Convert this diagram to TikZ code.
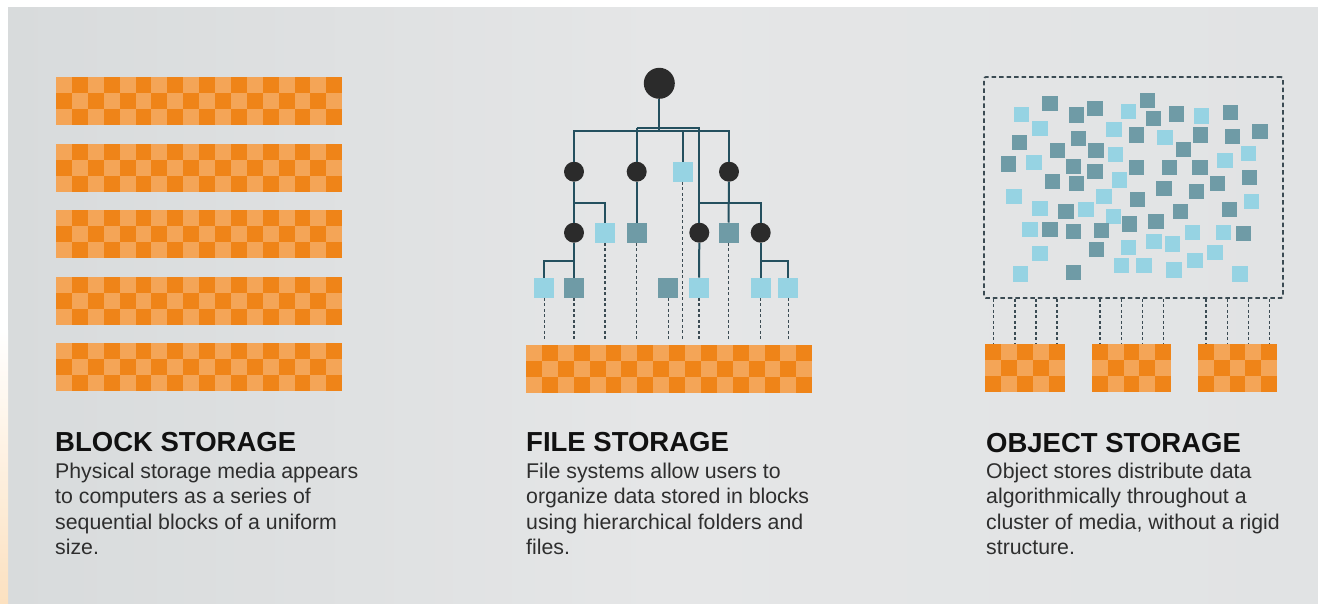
\documentclass[tikz,border=0pt]{standalone}
\usepackage{fontspec}
\setmainfont{Liberation Sans}

\definecolor{ordark}{HTML}{EF8418}
\definecolor{orlight}{HTML}{F4A557}
\definecolor{bgleft}{HTML}{D8DBDC}
\definecolor{bgmid}{HTML}{E5E6E7}
\definecolor{bgright}{HTML}{E1E3E4}
\definecolor{edgeor}{HTML}{FCE1C0}
\definecolor{treecol}{HTML}{24505F}
\definecolor{nodecol}{HTML}{2B2B2B}
\definecolor{sqlight}{HTML}{96D3E3}
\definecolor{sqdark}{HTML}{6F9BA6}
\definecolor{dotcol}{HTML}{3B4B53}
\definecolor{headcol}{HTML}{111111}
\definecolor{bodycol}{HTML}{2E2E2E}

% checkered storage strip: x, y (top left), columns, parity (0 = first cell light)
\def\cw{15.9}
\def\ch{16.1}
\newcommand\orangeblocks[4]{%
  \fill[orlight] (#1,#2) rectangle ++(#3*\cw,3*\ch);
  \foreach \r in {0,1,2}{
    \foreach \c in {1,...,#3}{
      \pgfmathtruncatemacro\isdark{mod(\r+\c+#4,2)}
      \ifnum\isdark=0
        \fill[ordark] ({#1+(\c-1)*\cw},{#2+\r*\ch}) rectangle ++(\cw,\ch);
      \fi
    }
  }
}

\tikzset{
  treeline/.style={draw=treecol, line width=2pt},
  folder/.style={circle, fill=nodecol, inner sep=0pt, minimum size=20pt},
  rootfolder/.style={folder, minimum size=31pt},
  filelt/.style={rectangle, fill=sqlight, inner sep=0pt, minimum size=20pt},
  filedk/.style={filelt, fill=sqdark},
  link/.style={draw=dotcol, line width=1.5pt, dash pattern=on 3pt off 2.5pt},
  heading/.style={anchor=base west, inner sep=0pt, text=headcol,
    font=\fontsize{27.5}{33}\selectfont\bfseries},
  body/.style={anchor=base west, inner sep=0pt, text=bodycol,
    font=\fontsize{21.3}{25.5}\selectfont},
}

\begin{document}
\begin{tikzpicture}[x=1pt, y=-1pt]
  % page and backdrop
  \useasboundingbox (0,0) rectangle (1318,603);
  \fill[white] (0,0) rectangle (1318,603);
  \shade[left color=bgleft, right color=bgmid] (8,7) rectangle (660,603);
  \shade[left color=bgmid, right color=bgright] (660,7) rectangle (1318,603);
  \shade[top color=white, bottom color=edgeor] (0,330) rectangle (8,603);

  % ---------------- block storage ----------------
  \foreach \y in {77,143.5,210,276.5,343}{
    \orangeblocks{56}{\y}{18}{0}
  }

  % ---------------- file storage ----------------
  \orangeblocks{526}{345}{18}{0}
  \coordinate (fbar) at (668,341);

  \node[rootfolder] (root) at (659.3,83.3) {};
  \coordinate (busA) at (659.3,131);
  \coordinate (busB) at (659.3,128);
  \coordinate (busC) at (659.3,202.7);
  \coordinate (busE) at (659.3,260.7);

  % second level
  \node[folder] (a1) at (574,171.7) {};
  \node[folder] (a2) at (636.7,171.7) {};
  \node[filelt] (a3) at (682.7,171.7) {};
  \node[folder] (a4) at (729,171.7) {};
  % third level
  \node[folder] (b1) at (574,232.7) {};
  \node[filelt] (b2) at (605,232.7) {};
  \node[filedk] (b3) at (636.7,232.7) {};
  \node[folder] (b4) at (699.3,232.7) {};
  \node[filedk] (b5) at (728.5,232.7) {};
  \node[folder] (b6) at (760.7,232.7) {};
  % fourth level
  \node[filelt] (c1) at (544.3,287.7) {};
  \node[filedk] (c2) at (574,287.7) {};
  \node[filedk] (c3) at (668.3,287.7) {};
  \node[filelt] (c4) at (699,287.7) {};
  \node[filelt] (c5) at (760.7,287.7) {};
  \node[filelt] (c6) at (788.3,287.7) {};

  % folder hierarchy
  \draw[treeline] (root.south) -- (busA);
  \draw[treeline] (a1.north) -- (a1 |- busA) -- (a4 |- busA) -- (a4.north);
  \draw[treeline] (a2.north) -- (a2 |- busA);
  \draw[treeline] (a3.north) -- (a3 |- busA);
  \draw[treeline] (a2 |- busB) -- (b4 |- busB) -- (b4.north);
  \draw[treeline] (a2.north) -- (a2 |- busB);
  \draw[treeline] (a1.south) -- (b1.north);
  \draw[treeline] (a1 |- busC) -- (b2 |- busC) -- (b2.north);
  \draw[treeline] (a2.south) -- (b3.north);
  \draw[treeline] (a4.south) -- (b5.north);
  \draw[treeline] (b4 |- busC) -- (b6 |- busC) -- (b6.north);
  \draw[treeline] (b1.south) -- (c2.north);
  \draw[treeline] (b1 |- busE) -- (c1 |- busE) -- (c1.north);
  \draw[treeline] (b4.south) -- (c4.north);
  \draw[treeline] (b6.south) -- (c5.north);
  \draw[treeline] (b6 |- busE) -- (c6 |- busE) -- (c6.north);

  % files mapped onto blocks
  \foreach \f in {a3,b2,b3,b5,c1,c2,c3,c4,c5,c6}{
    \draw[link] (\f.south) -- (\f |- fbar);
  }

  % ---------------- object storage ----------------
  \node[draw=dotcol, line width=1.8pt, dash pattern=on 4.5pt off 3pt,
        rounded corners=2pt, inner sep=0pt,
        minimum width=299pt, minimum height=221pt] (objbox) at (1133.5,187.5) {};

  \def\hs{7.75}
  \foreach \x/\y in {
    1021.7/114.3, 1128.3/111.7, 1201.7/116, 1040/128.3, 1114/129.3, 1165/137.3,
    1115.3/154.7, 1248.3/153.3, 1034/162.7, 1225/160.7, 1119.3/180,
    1014/196.7, 1104/196.7, 1251.7/201.7, 1040/208.3, 1086/209.3, 1113.3/216.7,
    1030/229.3, 1192.7/232.7, 1223.3/232.7, 1154/241.7, 1172.7/244,
    1040/253.3, 1128.3/247.3, 1215/252.7, 1195/260.7, 1121.7/265.5,
    1144/265.5, 1174/270, 1020.7/274, 1240/274}{
    \fill[sqlight] (\x-\hs,\y-\hs) rectangle ++(2*\hs,2*\hs);
  }
  \foreach \x/\y in {
    1050/103.3, 1076.7/115, 1095/108.3, 1147.3/100.7, 1153.3/118.3, 1176.7/114,
    1230.7/112.7, 1136.7/135, 1200.7/135, 1232.7/136.7, 1260/131.7,
    1019.3/142.3, 1078.3/138.3, 1057.3/150.7, 1096/150.7, 1183.3/149.3,
    1008.3/164, 1073.3/166.7, 1095/171.7, 1136.7/167.3, 1169.3/167.3,
    1200/167.3, 1249.3/177.3, 1052.7/181.7, 1076.7/183.3, 1164/188.3,
    1196.7/191.7, 1217.3/183.3, 1137.3/199.3, 1066/211.7, 1180.7/211.7,
    1229.3/209.3, 1050/229.3, 1073.3/231.7, 1101.7/230.7, 1129.3/224,
    1156/221.7, 1243.3/233.3, 1096.7/249.3, 1073.3/272.5}{
    \fill[sqdark] (\x-\hs,\y-\hs) rectangle ++(2*\hs,2*\hs);
  }

  \foreach \bx in {985,1091.7,1197.7}{
    \orangeblocks{\bx}{343.5}{5}{1}
    \foreach \dx in {8.5,30,51,72}{
      \coordinate (t) at (\bx+\dx,343);
      \draw[link] (objbox.south -| t) -- (t);
    }
  }

  % ---------------- captions ----------------
  \node[heading] (hblock) at (55,451.5) {BLOCK STORAGE};
  \node[heading] (hfile) at (526,451.5) {FILE STORAGE};
  \node[heading] (hobj) at (986,452) {OBJECT STORAGE};

  \foreach \t [count=\i] in {{Physical storage media appears},
      {to computers as a series of},
      {sequential blocks of a uniform},
      {size.}}{
    \node[body] (blk\i) at (55,{478+25.5*(\i-1)}) {\t};
  }
  \foreach \t [count=\i] in {{File systems allow users to},
      {organize data stored in blocks},
      {using hierarchical folders and},
      {files.}}{
    \node[body] (fil\i) at (526,{478+25.5*(\i-1)}) {\t};
  }
  \foreach \t [count=\i] in {{Object stores distribute data},
      {algorithmically throughout a},
      {cluster of media, without a rigid},
      {structure.}}{
    \node[body] (obj\i) at (986,{478+25.5*(\i-1)}) {\t};
  }
\end{tikzpicture}
\end{document}
